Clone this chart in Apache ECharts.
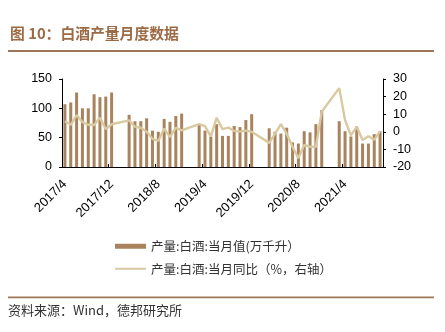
<!DOCTYPE html>
<html>
<head>
<meta charset="utf-8">
<script src="https://cdn.jsdelivr.net/npm/echarts@6/dist/echarts.min.js"></script>
<style>html,body{margin:0;padding:0;background:#fff;}#c{width:445px;height:332px;}</style>
</head>
<body>
<div id="c"></div>
<script>
var categories = [
'2017/4','2017/5','2017/6','2017/7','2017/8','2017/9','2017/10','2017/11','2017/12',
'2018/1','2018/2','2018/3','2018/4','2018/5','2018/6','2018/7','2018/8','2018/9','2018/10','2018/11','2018/12',
'2019/1','2019/2','2019/3','2019/4','2019/5','2019/6','2019/7','2019/8','2019/9','2019/10','2019/11','2019/12',
'2020/1','2020/2','2020/3','2020/4','2020/5','2020/6','2020/7','2020/8','2020/9','2020/10','2020/11','2020/12',
'2021/1','2021/2','2021/3','2021/4','2021/5','2021/6','2021/7','2021/8','2021/9','2021/10'
];
var outputValues = [
107,110,127,100,100,124,119,120,127,
null,null,89,78,78,83,62,60,82,77,87,91,
null,null,73,62,52,73,53,53,70,68,80,90,
null,null,66,60,57,67,42,40,61,59,73,97,
null,null,78,61,52,69,40,40,56,61
];
var yoyValues = [
6,4,9.5,5.5,4,3.9,8,1.6,4.3,
null,null,6.5,2.9,2.3,0,-4,-5.2,1.8,-3,2.3,0.8,
null,null,4.3,3.2,-2.6,8,1.5,2.4,0.5,0.1,0.7,0,
null,null,-6.3,-1.2,4.3,-1.1,-8.5,-15,-7.5,-8.5,-8.5,11.4,
null,null,24.8,6.7,-2,2.9,-4.7,-2.5,-4.5,0.4
];
var leftTicks = {min:0, max:150, interval:50};
var rightTicks = {min:-20, max:30, interval:10};
var barName = '产量:白酒:当月值(万千升）';
var lineName = '产量:白酒:当月同比（%，右轴）';
var titleText = '图 10：白酒产量月度数据';
var sourceText = '资料来源：Wind，德邦研究所';

var chart = echarts.init(document.getElementById('c'), null, {renderer:'canvas'});
var fontLat = 'Liberation Sans, Arial, sans-serif';
var fontCJK = '"Noto Sans CJK SC", sans-serif';
chart.setOption({
  animation:false,
  backgroundColor:'#fff',
  grid:{left:62,right:62,top:79,bottom:165,containLabel:false},
  graphic:[
    {type:'text',left:10,top:26,style:{text:titleText,fill:'#9c6b45',font:'bold 14.8px "Noto Sans CJK SC", sans-serif'}},
    {type:'rect',shape:{x:8,y:50,width:426,height:2},style:{fill:'#9c7656'}},
    {type:'rect',shape:{x:8,y:296.5,width:426,height:1.8},style:{fill:'#9c7656'}},
    {type:'text',left:8,top:304,style:{text:sourceText,fill:'#333',font:'13px "Noto Sans CJK SC", sans-serif'}}
  ],
  legend:[
    {data:[{name:barName,icon:'rect'}],left:110,top:235,itemWidth:31,itemHeight:5,itemGap:6,
     textStyle:{fontFamily:fontCJK,fontSize:12.5,color:'#333'}},
    {data:[{name:lineName,icon:'rect'}],left:110,top:257.5,itemWidth:31,itemHeight:2,itemGap:6,
     textStyle:{fontFamily:fontCJK,fontSize:12.5,color:'#333'}}
  ],
  xAxis:{
    type:'category',data:categories,boundaryGap:true,
    axisLine:{lineStyle:{color:'#000',width:1}},
    axisTick:{show:true,inside:true,length:3,interval:7,lineStyle:{color:'#000'}},
    axisLabel:{interval:7,rotate:45,fontFamily:fontLat,fontSize:13,color:'#000',margin:15}
  },
  yAxis:[
    {type:'value',min:leftTicks.min,max:leftTicks.max,interval:leftTicks.interval,
     axisLine:{show:true,lineStyle:{color:'#000'}},axisTick:{show:true,length:3,lineStyle:{color:'#000'}},
     splitLine:{show:false},axisLabel:{fontFamily:fontLat,fontSize:12.5,color:'#000',margin:10}},
    {type:'value',min:rightTicks.min,max:rightTicks.max,interval:rightTicks.interval,position:'right',
     axisLine:{show:true,lineStyle:{color:'#000'}},axisTick:{show:true,length:3,lineStyle:{color:'#000'}},
     splitLine:{show:false},axisLabel:{fontFamily:fontLat,fontSize:12.5,color:'#000',margin:10}}
  ],
  series:[
    {name:barName,type:'bar',data:outputValues,yAxisIndex:0,barWidth:3,itemStyle:{color:'#a8835d'}},
    {name:lineName,type:'line',data:yoyValues,yAxisIndex:1,connectNulls:true,showSymbol:false,symbol:'none',
     lineStyle:{color:'#d9c9a0',width:2.4},itemStyle:{color:'#d9c9a0'}}
  ]
});
</script>
</body>
</html>
